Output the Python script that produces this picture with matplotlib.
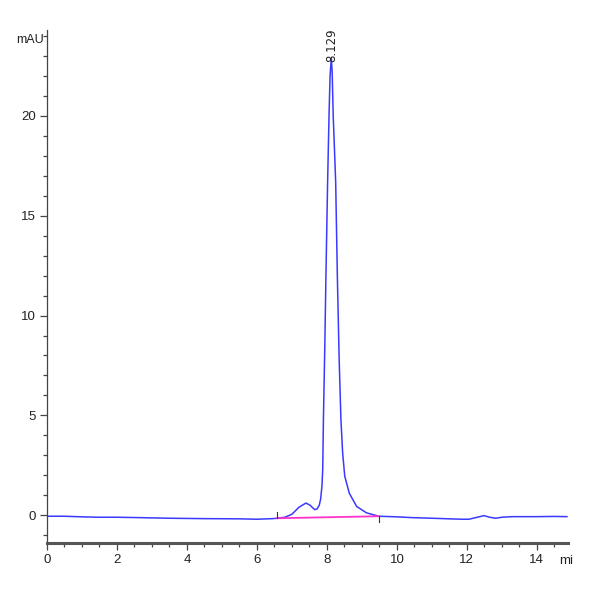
import matplotlib
matplotlib.use("Agg")
import matplotlib.pyplot as plt
from matplotlib.ticker import MultipleLocator

# chromatogram (time in min, signal in mAU)
time_min = [0.0, 0.5, 1.0, 1.5, 2.0, 2.65, 3.5, 4.5, 5.5, 6.0, 6.45, 6.58,
            6.8, 7.0, 7.2, 7.4, 7.52, 7.65, 7.72, 7.78, 7.82, 7.86, 7.88,
            7.90, 7.94, 7.97, 8.02, 8.06, 8.09, 8.125, 8.15, 8.18, 8.25,
            8.30, 8.35, 8.40, 8.45, 8.51, 8.64, 8.85, 9.13, 9.48, 10.0,
            10.44, 11.0, 11.5, 11.87, 12.06, 12.25, 12.49, 12.65, 12.82,
            13.0, 13.29, 14.0, 14.5, 14.86]
signal_mau = [-0.05, -0.05, -0.08, -0.1, -0.1, -0.12, -0.15, -0.17, -0.18,
              -0.2, -0.17, -0.15, -0.1, 0.05, 0.4, 0.61, 0.5, 0.28, 0.32,
              0.5, 0.8, 1.5, 2.3, 4.8, 8.5, 11.8, 16.7, 20.0, 22.0, 22.9,
              22.2, 20.0, 16.7, 11.8, 7.8, 4.8, 3.1, 1.95, 1.1, 0.44, 0.12,
              -0.05, -0.08, -0.12, -0.15, -0.18, -0.2, -0.2, -0.12, -0.02,
              -0.1, -0.15, -0.1, -0.07, -0.07, -0.06, -0.07]

# integration baseline
base_t = [6.58, 9.48]
base_y = [-0.15, -0.05]

peak_rt = 8.129
peak_label = "8.129"

fig = plt.figure(figsize=(6, 6), dpi=100)
ax = fig.add_axes([47/600, 1 - 543/600, (568 - 47)/600, (543 - 30)/600])

ax.plot(time_min, signal_mau, color='#3a3aff', lw=1.1)
ax.plot(base_t, base_y, color='#ff33cc', lw=1.3)
ax.plot([base_t[0], base_t[0]], [base_y[0], base_y[0] + 0.3], color='#333333', lw=0.8)
ax.plot([base_t[1], base_t[1]], [base_y[1], base_y[1] - 0.3], color='#333333', lw=0.8)

ax.text(peak_rt, 22.7, peak_label, rotation=90, ha='center', va='bottom',
        fontsize=8.5, color='#222222', clip_on=False)

ax.set_xlim(0, 14.89)
ax.set_ylim(-1.39, 24.3)

ax.xaxis.set_major_locator(MultipleLocator(2))
ax.xaxis.set_minor_locator(MultipleLocator(0.5))
ax.yaxis.set_major_locator(MultipleLocator(5))
ax.yaxis.set_minor_locator(MultipleLocator(1))

for s in ['top', 'right']:
    ax.spines[s].set_visible(False)
ax.spines['left'].set_color('#444444')
ax.spines['left'].set_linewidth(0.9)
ax.spines['bottom'].set_color('#555555')
ax.spines['bottom'].set_linewidth(2.2)

fam = ['Liberation Sans', 'DejaVu Sans']
ax.tick_params(which='major', length=5, width=0.9, color='#444444',
               labelsize=9.5, labelcolor='#222222', pad=3)
ax.tick_params(which='minor', length=3, width=0.9, color='#444444')
for lab in ax.get_xticklabels() + ax.get_yticklabels():
    lab.set_family(fam)

fig.text(44/600, 1 - 40/600, 'mAU', ha='right', va='center', fontsize=9,
         color='#222222', family=fam)
fig.text(566/600, 1 - 561/600, 'mi', ha='center', va='center', fontsize=9.5,
         color='#222222', family=fam)

fig.savefig('out.png', dpi=100)
